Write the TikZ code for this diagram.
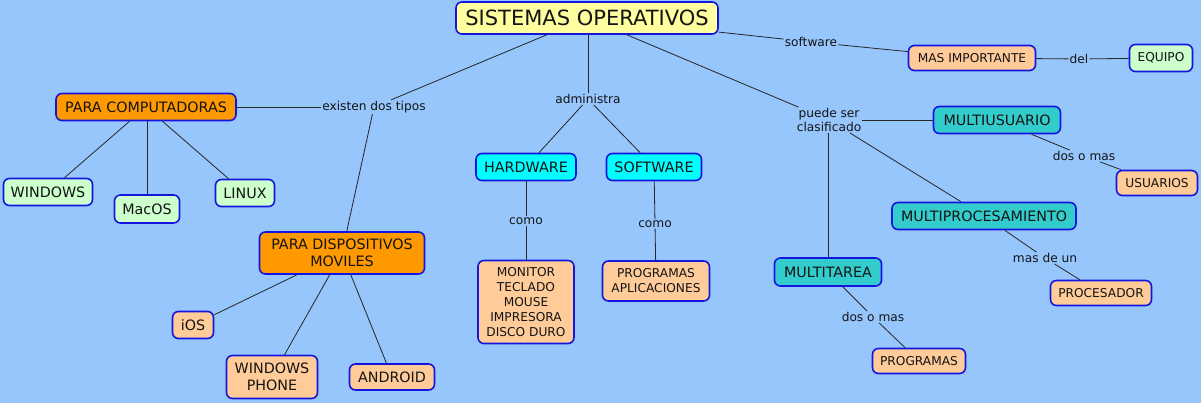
\documentclass[tikz,border=0pt]{standalone}
\usepackage{fontspec}
\setmainfont{DejaVu Sans}
\definecolor{bg}{RGB}{150,198,252}
\definecolor{bord}{RGB}{20,20,225}
\definecolor{txt}{RGB}{20,20,20}
\definecolor{yel}{RGB}{255,255,160}
\definecolor{ora}{RGB}{255,153,0}
\definecolor{grn}{RGB}{204,255,204}
\definecolor{pea}{RGB}{255,204,153}
\definecolor{cya}{RGB}{0,255,255}
\definecolor{tea}{RGB}{51,204,204}
\tikzset{
  box/.style={draw=bord, line width=1.6pt, rounded corners=6pt, inner sep=0pt, align=center, text=txt, font=\fontsize{12.3}{15}\selectfont},
  bigbox/.style={box, font=\fontsize{14.3}{17}\selectfont},
  smallbox/.style={box, font=\fontsize{12.2}{15}\selectfont},
  lbl/.style={inner sep=1pt, align=center, text=txt, font=\fontsize{12.2}{14}\selectfont},
  conn/.style={draw=black!85, line width=0.8pt},
  sz/.style 2 args={minimum width=#1pt, minimum height=#2pt}
}
\begin{document}
\begin{tikzpicture}[x=1pt,y=-1pt]
\fill[bg] (0,0) rectangle (1201,403);
\useasboundingbox (0,0) rectangle (1201,403);
% nodes
\node[box, fill=yel, sz={262}{32}, font=\fontsize{21}{23}\selectfont] (so) at (587,18) {SISTEMAS OPERATIVOS};
\node[bigbox, fill=ora, sz={180}{27}] (pc) at (146,107) {PARA COMPUTADORAS};
\node[bigbox, fill=grn, sz={89}{27}] (win) at (48,192) {WINDOWS};
\node[bigbox, fill=grn, sz={65}{28}] (mac) at (147,209) {MacOS};
\node[bigbox, fill=grn, sz={59}{27}] (lin) at (245,193) {LINUX};
\node[bigbox, fill=ora, sz={165}{42}] (pd) at (342,253) {PARA DISPOSITIVOS\\MOVILES};
\node[bigbox, fill=pea, sz={41}{27}] (ios) at (193,325) {iOS};
\node[bigbox, fill=pea, sz={91}{43}] (wp) at (272,377) {WINDOWS\\PHONE};
\node[bigbox, fill=pea, sz={85}{26}] (and) at (392,377) {ANDROID};
\node[bigbox, fill=cya, sz={100}{27}] (hw) at (526,167) {HARDWARE};
\node[bigbox, fill=cya, sz={95}{27}] (sw) at (654,167) {SOFTWARE};
\node[smallbox, fill=pea, sz={96}{83}, font=\fontsize{12.2}{15}\selectfont] (mon) at (526,302) {MONITOR\\TECLADO\\MOUSE\\IMPRESORA\\DISCO DURO};
\node[smallbox, fill=pea, sz={107}{40}, font=\fontsize{12.2}{15}\selectfont] (pa) at (656,281) {PROGRAMAS\\APLICACIONES};
\node[smallbox, fill=pea, sz={127}{25}] (mi) at (972,58) {MAS IMPORTANTE};
\node[smallbox, fill=grn, sz={63}{27}] (eq) at (1161,58) {EQUIPO};
\node[bigbox, fill=tea, sz={127}{27}] (mu) at (997,120) {MULTIUSUARIO};
\node[smallbox, fill=pea, sz={81}{25}] (us) at (1157,183) {USUARIOS};
\node[bigbox, fill=tea, sz={184}{27}] (mp) at (984,216) {MULTIPROCESAMIENTO};
\node[smallbox, fill=pea, sz={101}{25}] (pr) at (1101,293) {PROCESADOR};
\node[bigbox, fill=tea, sz={107}{28}] (mt) at (828,272) {MULTITAREA};
\node[smallbox, fill=pea, sz={93}{25}] (pg) at (919,361) {PROGRAMAS};
% labels
\node[lbl] (l1) at (374,107) {existen dos tipos};
\node[lbl] (l2) at (588,99) {administra};
\node[lbl] (l3) at (811,42) {software};
\node[lbl] (l4) at (829,120) {puede ser\\clasificado};
\node[lbl] (l5) at (1079,59) {del};
\node[lbl] (l6) at (526,221) {como};
\node[lbl] (l7) at (655,224) {como};
\node[lbl] (l8) at (1084,156) {dos o mas};
\node[lbl] (l9) at (1045,258) {mas de un};
\node[lbl] (l10) at (873,317) {dos o mas};
% connectors
\draw[conn] (so) -- (l1);
\draw[conn] (l1) -- (pc);
\draw[conn] (l1) -- (pd);
\draw[conn] (pc) -- (win);
\draw[conn] (pc.south -| mac) -- (mac);
\draw[conn] (pc) -- (lin);
\draw[conn] (pd) -- (ios);
\draw[conn] (pd) -- (wp);
\draw[conn] (pd) -- (and);
\draw[conn] (so.south -| l2) -- (l2);
\draw[conn] (l2) -- (hw);
\draw[conn] (l2) -- (sw);
\draw[conn] (hw) -- (l6);
\draw[conn] (l6) -- (mon);
\draw[conn] (sw) -- (l7);
\draw[conn] (l7) -- (pa);
\draw[conn] (so) -- (l3);
\draw[conn] (l3) -- (mi);
\draw[conn] (mi) -- (l5);
\draw[conn] (l5) -- (eq);
\draw[conn] (so) -- (l4);
\draw[conn] (l4) -- (mu);
\draw[conn] (l4.south -| mt) -- (mt);
\draw[conn] (l4) -- (mp);
\draw[conn] (mu) -- (l8);
\draw[conn] (l8) -- (us);
\draw[conn] (mp) -- (l9);
\draw[conn] (l9) -- (pr);
\draw[conn] (mt) -- (l10);
\draw[conn] (l10) -- (pg);
\end{tikzpicture}
\end{document}
